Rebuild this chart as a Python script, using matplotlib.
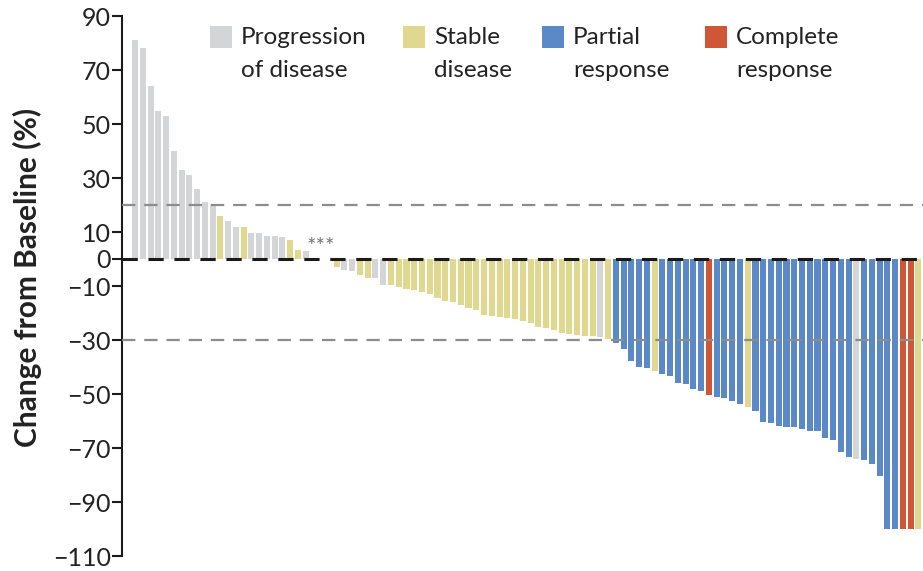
import numpy as np
import matplotlib.pyplot as plt
from matplotlib.patches import Rectangle

plt.rcParams['font.family'] = ['Lato', 'DejaVu Sans']

# ---------------- data: best change from baseline per patient ----------------
change = [81, 78, 64, 55, 53, 40, 33, 31, 26, 21,
          20, 16, 14, 12, 12, 9.5, 9.5, 8.5, 8.5, 8,
          7, 3.5, 3, 0, 0, 0, -3, -4, -4.5, -6,
          -7, -7, -9.5, -9.8, -10.4, -11, -11.6, -12.2, -13, -14.5,
          -15.7, -16, -17, -18.2, -19, -20.6, -21, -21.4, -21.8, -22.2,
          -23, -23.8, -25.3, -25.5, -26.3, -27.3, -27.6, -28, -28.4, -28.6,
          -29, -29.7, -31, -33.5, -37.7, -40.1, -40.4, -41.5, -42.6, -43.3,
          -46, -46.3, -48.2, -49, -50.2, -51, -51.4, -52.5, -53.8, -54.8,
          -56.4, -60.2, -60.6, -61.7, -62.1, -62.2, -62.8, -63.6, -63.8, -66.4,
          -67, -71.4, -73.2, -74, -74.3, -76.1, -80.5, -100, -100, -100,
          -100, -100]

# P = progression, S = stable, R = partial response, C = complete response
response = list("PPPPPPPPPP"
                "PSPPSPPPPP"
                "SSPSSSSPPS"
                "SPPSSSSSSS"
                "SSSSSSSSSS"
                "SSSSSSSSSS"
                "PSRRRRRSRR"
                "RRRRCRRRRS"
                "RRRRRRRRRR"
                "RRRPRRRRRC"
                "CS")

categories = ['P', 'S', 'R', 'C']
legend_labels = ['Progression\nof disease', 'Stable\ndisease', 'Partial\nresponse', 'Complete\nresponse']
colors = {'P': '#d4d5d7', 'S': '#e0d88e', 'R': '#5b89c7', 'C': '#cf5637'}

yticks = [90, 70, 50, 30, 10, 0, -10, -30, -50, -70, -90, -110]

# ---------------- figure ----------------
fig = plt.figure(figsize=(9.23, 5.71), dpi=100)
ax = fig.add_axes([122 / 923, 15 / 571, 801 / 923, 540 / 571])

x = np.arange(len(change))
bar_colors = [colors[r] for r in response]
ax.bar(x, change, width=0.78, color=bar_colors, linewidth=0, zorder=2)

# reference lines
ax.axhline(20, color='#8c8c8c', lw=1.6, dashes=(6, 4), zorder=3)
ax.axhline(-30, color='#8c8c8c', lw=1.6, dashes=(6, 4), zorder=3)
ax.axhline(0, color='#1a1a1a', lw=2.2, dashes=(5, 3.5), zorder=3)

# three patients with no change
ax.text(24, 0.6, '***', ha='center', va='bottom', fontsize=16, color='#777777', zorder=4)

ax.set_xlim(-1.68, 101.6)
ax.set_ylim(-110, 90)
ax.set_yticks(yticks)
ax.set_yticklabels([str(t).replace('-', '\u2212') for t in yticks])
ax.set_xticks([])

for side in ['top', 'right', 'bottom']:
    ax.spines[side].set_visible(False)
ax.spines['left'].set_linewidth(1.5)
ax.spines['left'].set_color('#1a1a1a')
ax.tick_params(axis='y', direction='out', length=7, width=1.5, color='#1a1a1a',
               labelsize=18, labelcolor='#222222', pad=1)

ax.set_ylabel('Change from Baseline (%)', fontsize=21.5, fontweight='bold', color='#222222')
ax.yaxis.set_label_coords(-0.1, 0.515)

# legend drawn in figure pixels
sq_left = [210, 403, 542, 705]
for cat, lab, left in zip(categories, legend_labels, sq_left):
    fig.add_artist(Rectangle((left / 923, 1 - 48 / 571), 22 / 923, 22 / 571,
                             transform=fig.transFigure, color=colors[cat], lw=0))
    fig.text((left + 31) / 923, 1 - 27 / 571, lab, ha='left', va='top',
             fontsize=17.5, color='#222222', linespacing=1.72)

fig.savefig('out.png', dpi=100)
